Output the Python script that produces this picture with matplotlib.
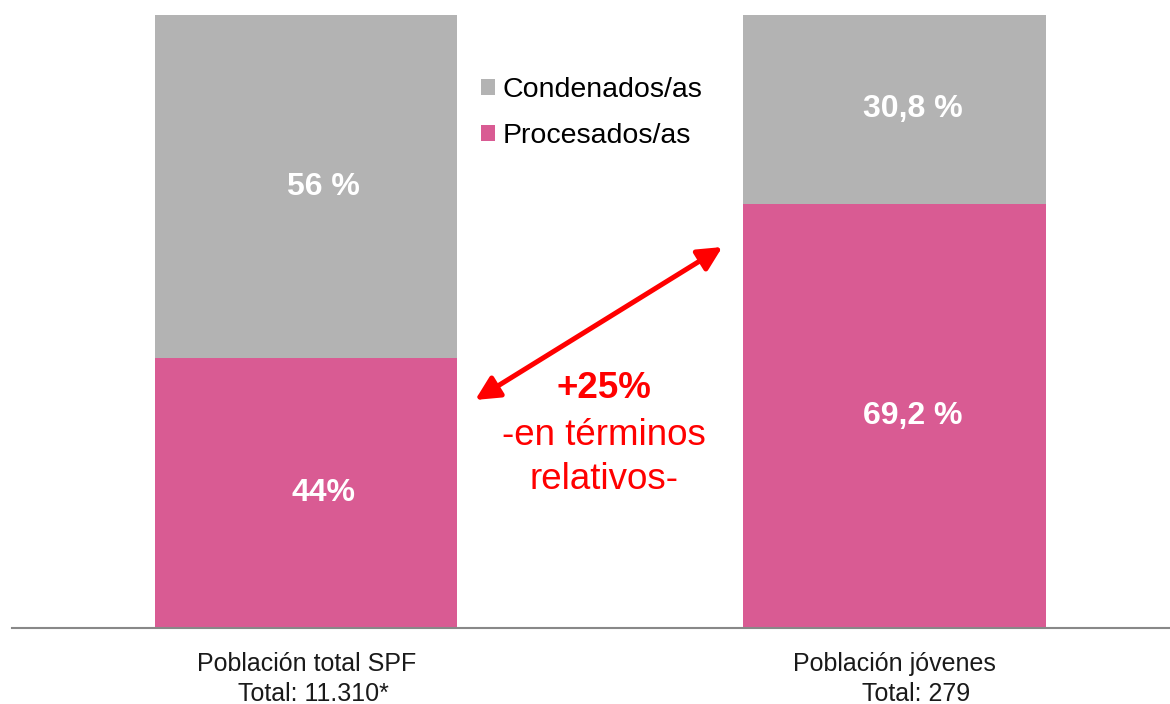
import matplotlib.pyplot as plt

plt.rcParams['font.family'] = ['Liberation Sans', 'DejaVu Sans']

groups = ['Población total SPF', 'Población jóvenes']
totals = ['Total: 11.310*', 'Total: 279']
procesados = [44.0, 69.2]
condenados = [56.0, 30.8]
proc_labels = ['44%', '69,2 %']
cond_labels = ['56 %', '30,8 %']
series_names = ['Condenados/as', 'Procesados/as']

gray = '#b3b3b3'
pink = '#d95b93'
red = '#ff0000'

dpi = 100
fig = plt.figure(figsize=(1170 / dpi, 704 / dpi), dpi=dpi)
ax = fig.add_axes([12 / 1170, 76 / 704, 1 - 12 / 1170, 613 / 704])

x = [0, 1]
w = 0.514
b1 = ax.bar(x, procesados, w, color=pink, label=series_names[1])
b2 = ax.bar(x, condenados, w, bottom=procesados, color=gray, label=series_names[0])

for i in x:
    dx = 0.029 + 0.003 * i
    ax.text(i + dx, procesados[i] / 2, proc_labels[i], color='white',
            fontsize=23, fontweight='bold', ha='center', va='center')
    ax.text(i + dx, procesados[i] + condenados[i] / 2, cond_labels[i], color='white',
            fontsize=23, fontweight='bold', ha='center', va='center')

ax.set_xlim(-0.5, 1.4685)
ax.set_ylim(0, 100)
for s in ['top', 'right', 'left']:
    ax.spines[s].set_visible(False)
ax.spines['bottom'].set_color('#888888')
ax.spines['bottom'].set_linewidth(1.5)
ax.set_yticks([])
ax.set_xticks([])

# category labels under the axis
for i in x:
    ax.annotate(groups[i], (i, 0), xytext=(0, -26), textcoords='offset points',
                ha='center', va='center', fontsize=18, color='#1a1a1a')
ax.annotate(totals[0], (0, 0), xytext=(5, -47.5), textcoords='offset points',
            ha='center', va='center', fontsize=18, color='#1a1a1a')
ax.annotate(totals[1], (1, 0), xytext=(15.5, -47.5), textcoords='offset points',
            ha='center', va='center', fontsize=18, color='#1a1a1a')

ax.legend(handles=[b2, b1], loc='upper left', bbox_to_anchor=(0.405, 0.899),
          frameon=False, fontsize=20.5, handlelength=0.5, handleheight=0.5,
          handletextpad=0.25, labelspacing=0.7, borderaxespad=0, borderpad=0)

# double arrow between the two pink segments
ax.annotate('', xy=(0.7075, 62.15), xytext=(0.2874, 37.2),
            arrowprops=dict(arrowstyle='<|-|>', color=red, lw=3.6,
                            mutation_scale=36, shrinkA=0, shrinkB=0))

ax.text(0.507, 39.0, '+25%', color=red, fontsize=26.5, fontweight='bold',
        ha='center', va='center')
ax.text(0.507, 31.4, '-en términos', color=red, fontsize=26.5,
        ha='center', va='center')
ax.text(0.507, 24.3, 'relativos-', color=red, fontsize=26.5,
        ha='center', va='center')

fig.savefig('out.png', dpi=dpi)
